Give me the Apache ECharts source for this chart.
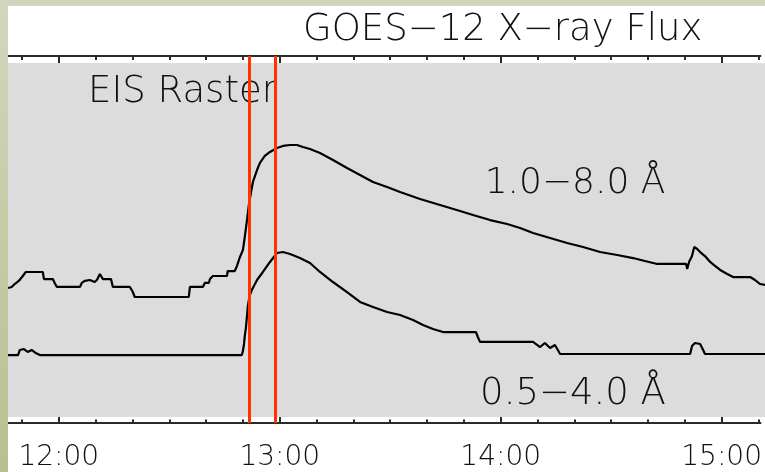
<!DOCTYPE html>
<html>
<head>
<meta charset="utf-8">
<script src="https://cdn.jsdelivr.net/npm/echarts@6/dist/echarts.min.js"></script>
<style>
  html, body { margin: 0; padding: 0; }
  body {
    width: 765px; height: 472px; position: relative; overflow: hidden;
    background: linear-gradient(180deg, #d3d6bd 0%, #c5c9a4 55%, #b9bf91 100%);
  }
  #chart { position: absolute; left: 8px; top: 6px; width: 757px; height: 466px; background: #ffffff; }
</style>
</head>
<body>
<div id="chart"></div>
<script>
// Time in minutes after 00:00 UT, flux as log10(W m^-2)
const timeMin = 706.2;
const timeMax = 910.5;
const hourTicks = [720, 780, 840, 900];
const hourLabels = ['12:00', '13:00', '14:00', '15:00'];
const minorTicks = [710, 720, 730, 740, 750, 760, 770, 780, 790, 800, 810, 820,
                    830, 840, 850, 860, 870, 880, 890, 900, 910];
const rasterTimes = [771.7, 778.9];   // EIS raster start / end

// GOES-12 1.0–8.0 Å channel
const longTimes = [
  706.2, 707.2, 708.0, 709.1, 710.2, 711.0, 715.6, 715.9, 718.3, 718.8,
  719.4, 725.6, 726.1, 726.9, 728.3, 729.6, 730.2, 731.0, 731.8, 734.0,
  734.5, 739.1, 739.9, 740.4, 755.0, 755.3, 758.8, 759.3, 760.4, 760.7,
  761.2, 761.5, 765.3, 765.5, 767.4, 768.0, 768.8, 769.6, 770.1, 770.7,
  771.2, 771.8, 772.3, 773.4, 774.2, 775.5, 776.9, 778.8, 780.4, 782.3,
  784.2, 785.8, 787.7, 790.4, 793.9, 797.7, 801.2, 804.7, 808.5, 812.0,
  817.4, 822.8, 828.2, 831.7, 836.3, 840.9, 844.4, 847.9, 852.5, 857.1,
  861.4, 866.0, 870.6, 874.9, 878.1, 881.4, 889.2, 889.5, 890.0, 890.8,
  891.4, 892.2, 893.0, 894.3, 895.7, 897.0, 898.4, 900.3, 901.9, 906.5,
  907.8, 909.2, 910.5
];
const longFlux = [
  -6.907, -6.898, -6.873, -6.847, -6.805, -6.771, -6.771, -6.831, -6.831, -6.864,
  -6.898, -6.898, -6.864, -6.847, -6.839, -6.856, -6.839, -6.788, -6.831, -6.831,
  -6.898, -6.898, -6.941, -6.983, -6.983, -6.898, -6.898, -6.864, -6.864, -6.831,
  -6.831, -6.805, -6.805, -6.763, -6.763, -6.720, -6.644, -6.585, -6.475, -6.331,
  -6.203, -6.093, -6.008, -5.907, -5.847, -5.788, -5.754, -5.720, -5.703, -5.695,
  -5.695, -5.712, -5.729, -5.763, -5.822, -5.890, -5.949, -6.008, -6.051, -6.093,
  -6.153, -6.203, -6.254, -6.288, -6.331, -6.364, -6.398, -6.441, -6.483, -6.525,
  -6.559, -6.602, -6.627, -6.653, -6.678, -6.703, -6.703, -6.746, -6.686, -6.636,
  -6.559, -6.576, -6.602, -6.636, -6.686, -6.720, -6.754, -6.788, -6.814, -6.814,
  -6.839, -6.873, -6.881
];

// GOES-12 0.5–4.0 Å channel
const shortTimes = [
  706.2, 708.9, 709.4, 710.5, 711.5, 712.6, 713.7, 714.8, 769.3, 769.6,
  769.9, 770.1, 770.4, 770.7, 770.9, 771.2, 771.5, 772.0, 773.4, 775.0,
  776.9, 778.8, 780.4, 782.3, 785.0, 787.7, 790.4, 793.9, 797.7, 801.2,
  804.7, 808.5, 812.0, 815.5, 818.2, 820.9, 823.6, 832.5, 833.0, 833.6,
  847.9, 849.8, 851.1, 852.5, 853.8, 854.6, 855.2, 890.3, 890.8, 891.6,
  893.0, 893.8, 894.3, 910.5
];
const shortFlux = [
  -7.475, -7.475, -7.432, -7.424, -7.449, -7.432, -7.458, -7.475, -7.475, -7.441,
  -7.381, -7.314, -7.246, -7.144, -7.068, -7.008, -6.966, -6.924, -6.839, -6.771,
  -6.686, -6.610, -6.602, -6.619, -6.653, -6.695, -6.771, -6.856, -6.941, -7.025,
  -7.068, -7.110, -7.136, -7.178, -7.220, -7.254, -7.280, -7.280, -7.322, -7.364,
  -7.364, -7.407, -7.373, -7.415, -7.390, -7.432, -7.466, -7.466, -7.398, -7.373,
  -7.381, -7.432, -7.466, -7.466
];

const FONT = '"DejaVu Sans", sans-serif';
const INK = '#111111';
const AXIS = { color: '#2a2a2a', width: 2 };

function pairs(xs, ys) { return xs.map((x, i) => [x, ys[i]]); }

// One tick row of the frame (bottom or top, major or minor ticks)
function frameAxis(position, ticks, tickLen, withLabels) {
  return {
    type: 'value', gridIndex: 0, position: position,
    min: timeMin, max: timeMax,
    axisLine: { show: true, onZero: false, lineStyle: AXIS },
    axisTick: { show: true, inside: true, length: tickLen, customValues: ticks, lineStyle: AXIS },
    axisLabel: withLabels ? {
      show: true, customValues: hourTicks, margin: 21,
      fontSize: 28, fontFamily: FONT, fontWeight: 200, color: INK,
      formatter: v => hourLabels[hourTicks.indexOf(v)]
    } : { show: false },
    splitLine: { show: false }
  };
}

const chart = echarts.init(document.getElementById('chart'), null, { renderer: 'canvas' });

chart.setOption({
  animation: false,
  backgroundColor: '#ffffff',
  title: {
    text: 'GOES−12 X−ray Flux',
    left: 295, top: 6, padding: 0,
    textStyle: { fontSize: 37, fontFamily: FONT, fontWeight: 200, color: INK }
  },
  grid: [
    { left: 0, right: 0, top: 50, bottom: 49, show: false },
    { left: 0, right: 0, top: 57, bottom: 55, show: true, backgroundColor: '#dcdcdc', borderWidth: 0 }
  ],
  xAxis: [
    frameAxis('bottom', hourTicks, 6, true),
    frameAxis('bottom', minorTicks, 3.5, false),
    frameAxis('top', hourTicks, 7, false),
    frameAxis('top', minorTicks, 4, false),
    { type: 'value', gridIndex: 1, min: timeMin, max: timeMax, show: false }
  ],
  yAxis: [
    { type: 'value', gridIndex: 0, min: 0, max: 1, show: false },
    { type: 'value', gridIndex: 1, min: -8, max: -5, show: false }
  ],
  graphic: [
    { type: 'text', x: 80, y: 86, silent: true,
      style: { text: 'EIS Raster', fontSize: 37, fontFamily: FONT, fontWeight: 200, fill: INK,
               textAlign: 'left', textVerticalAlign: 'middle' } },
    { type: 'text', x: 567, y: 178, silent: true,
      style: { text: '1.0−8.0 Å', fontSize: 36, fontFamily: FONT, fontWeight: 200, fill: INK,
               textAlign: 'center', textVerticalAlign: 'middle' } },
    { type: 'text', x: 565, y: 388, silent: true,
      style: { text: '0.5−4.0 Å', fontSize: 37, fontFamily: FONT, fontWeight: 200, fill: INK,
               textAlign: 'center', textVerticalAlign: 'middle' } }
  ],
  series: [
    {
      name: '1.0−8.0 Å', type: 'line', xAxisIndex: 4, yAxisIndex: 1,
      data: pairs(longTimes, longFlux),
      symbol: 'none', silent: true, z: 3,
      lineStyle: { color: '#000000', width: 2.2 }
    },
    {
      name: '0.5−4.0 Å', type: 'line', xAxisIndex: 4, yAxisIndex: 1,
      data: pairs(shortTimes, shortFlux),
      symbol: 'none', silent: true, z: 3,
      lineStyle: { color: '#000000', width: 2.2 }
    },
    {
      name: 'EIS Raster', type: 'line', xAxisIndex: 0, yAxisIndex: 0,
      data: [], silent: true, z: 6,
      markLine: {
        silent: true, symbol: ['none', 'none'], label: { show: false },
        lineStyle: { color: '#ff3300', width: 3, type: 'solid' },
        emphasis: { disabled: true },
        data: rasterTimes.map(t => ({ xAxis: t }))
      }
    }
  ]
});
</script>
</body>
</html>
